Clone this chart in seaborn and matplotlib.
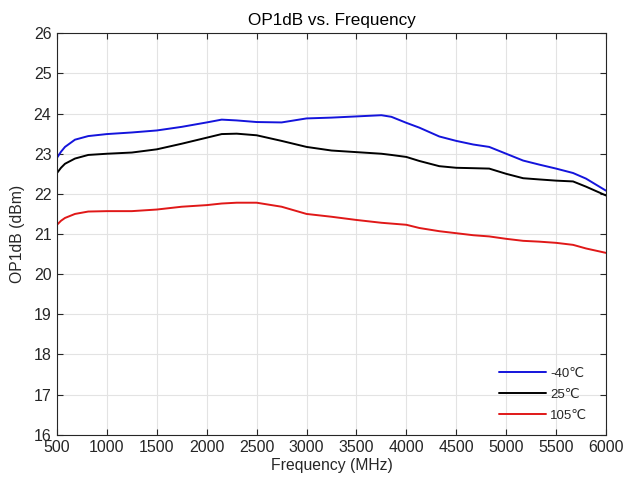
import numpy as np
import pandas as pd
import matplotlib
matplotlib.use("Agg")
import matplotlib.pyplot as plt
import seaborn as sns

# Frequency points (MHz) and measured OP1dB (dBm) per temperature
freq = [500, 540, 580, 680, 813, 1000, 1250, 1500, 1750, 2000, 2150, 2300,
        2500, 2750, 3000, 3250, 3500, 3750, 3850, 4000, 4130, 4330, 4500,
        4670, 4830, 5000, 5170, 5330, 5500, 5670, 5800, 6000]

op1db_m40 = [22.90, 23.05, 23.17, 23.35, 23.44, 23.49, 23.53, 23.58, 23.67,
             23.78, 23.85, 23.83, 23.79, 23.78, 23.88, 23.90, 23.93, 23.96,
             23.92, 23.77, 23.65, 23.43, 23.32, 23.23, 23.17, 23.00, 22.83,
             22.73, 22.63, 22.52, 22.38, 22.08]

op1db_25 = [22.52, 22.65, 22.75, 22.88, 22.97, 23.00, 23.03, 23.11, 23.25,
            23.40, 23.49, 23.50, 23.46, 23.32, 23.17, 23.08, 23.04, 23.00,
            22.97, 22.92, 22.82, 22.69, 22.65, 22.64, 22.63, 22.50, 22.39,
            22.36, 22.33, 22.31, 22.18, 21.96]

op1db_105 = [21.23, 21.33, 21.40, 21.50, 21.56, 21.57, 21.57, 21.61, 21.68,
             21.72, 21.76, 21.78, 21.78, 21.68, 21.50, 21.43, 21.35, 21.28,
             21.26, 21.23, 21.15, 21.07, 21.02, 20.97, 20.94, 20.88, 20.83,
             20.81, 20.78, 20.73, 20.64, 20.53]

temps = ["-40\u2103", "25\u2103", "105\u2103"]
colors = ["#1414dc", "#000000", "#e01818"]

x_ticks = [500, 1000, 1500, 2000, 2500, 3000, 3500, 4000, 4500, 5000, 5500, 6000]
y_ticks = [16, 17, 18, 19, 20, 21, 22, 23, 24, 25, 26]

df = pd.concat([
    pd.DataFrame({"freq": freq, "op1db": vals, "temp": t})
    for t, vals in zip(temps, [op1db_m40, op1db_25, op1db_105])
])

sns.set_theme(style="white")
plt.rcParams["font.family"] = ["Liberation Sans", "DejaVu Sans"]

fig = plt.figure(figsize=(6.23, 4.83), dpi=100)
ax = fig.add_axes([0.0915, 0.1, 0.8812, 0.831])

sns.lineplot(data=df, x="freq", y="op1db", hue="temp", hue_order=temps,
             palette=colors, linewidth=1.4, ax=ax, sort=True)

ax.set_xlim(500, 6000)
ax.set_ylim(16, 26)
ax.set_xticks(x_ticks)
ax.set_yticks(y_ticks)
ax.grid(True, color="#e3e3e3", linewidth=0.8)
ax.set_axisbelow(True)

for s in ax.spines.values():
    s.set_color("#262626")
    s.set_linewidth(0.8)
    s.set_visible(True)

ax.tick_params(direction="in", length=4, width=0.8, color="#262626",
               labelsize=11.5, labelcolor="#262626",
               top=True, right=True, bottom=True, left=True, pad=4)

ax.set_xlabel("Frequency (MHz)", fontsize=11.3, color="#262626", labelpad=2)
ax.set_ylabel("OP1dB (dBm)", fontsize=11.3, color="#262626", labelpad=6)
ax.set_title("OP1dB vs. Frequency", fontsize=12.3, color="black", pad=6)

handles, labels = ax.get_legend_handles_labels()
leg = ax.legend(handles, labels, loc="lower right", frameon=False,
                fontsize=9.5, handlelength=3.6, handletextpad=0.3,
                labelspacing=0.65, borderaxespad=0.6,
                bbox_to_anchor=(0.99, 0.0))
for t in leg.get_texts():
    t.set_color("#262626")

fig.savefig("out.png", dpi=100, facecolor="white")
